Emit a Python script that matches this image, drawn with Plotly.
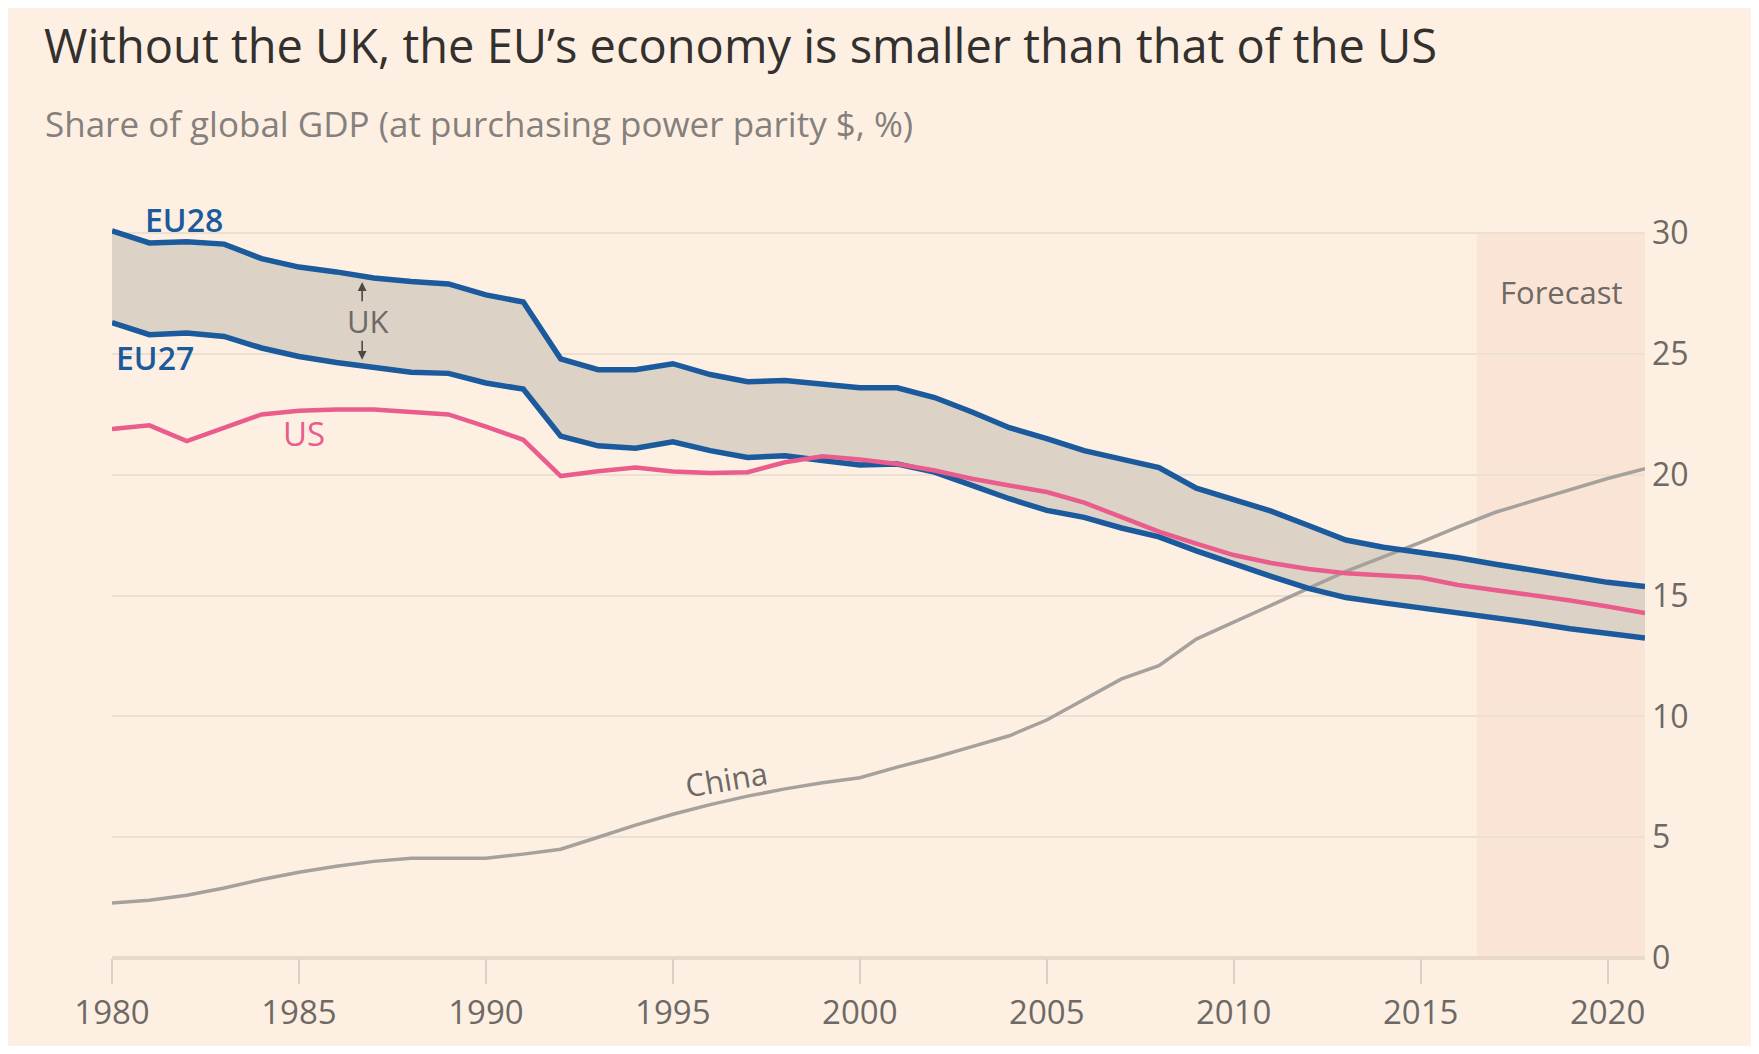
import numpy as np
import plotly.graph_objects as go

# share of global GDP at PPP, %
years = list(range(1980, 2022))

eu28 = [30.1, 29.6, 29.65, 29.55, 28.95, 28.6, 28.4, 28.15, 28.0, 27.9,
        27.45, 27.15, 24.8, 24.35, 24.35, 24.6, 24.15, 23.85, 23.9, 23.75,
        23.6, 23.6, 23.2, 22.6, 21.95, 21.5, 21.0, 20.65, 20.3, 19.45,
        18.95, 18.5, 17.9, 17.3, 17.0, 16.8, 16.57, 16.3, 16.06, 15.8,
        15.55, 15.38]
eu27 = [26.3, 25.8, 25.87, 25.73, 25.25, 24.9, 24.65, 24.45, 24.25, 24.2,
        23.8, 23.55, 21.6, 21.2, 21.1, 21.37, 21.0, 20.72, 20.79, 20.59,
        20.41, 20.45, 20.11, 19.56, 19.01, 18.53, 18.24, 17.8, 17.43, 16.85,
        16.3, 15.8, 15.3, 14.92, 14.7, 14.5, 14.3, 14.08, 13.87, 13.63,
        13.45, 13.25]
us = [21.9, 22.05, 21.4, 21.95, 22.5, 22.65, 22.7, 22.7, 22.6, 22.5,
      22.0, 21.45, 19.95, 20.15, 20.3, 20.14, 20.08, 20.11, 20.52, 20.77,
      20.63, 20.45, 20.18, 19.84, 19.56, 19.29, 18.85, 18.25, 17.65, 17.15,
      16.68, 16.35, 16.1, 15.93, 15.82, 15.75, 15.44, 15.23, 15.03, 14.8,
      14.55, 14.28]
china = [2.28, 2.39, 2.6, 2.9, 3.25, 3.55, 3.8, 4.0, 4.13, 4.13,
         4.13, 4.3, 4.5, 5.0, 5.5, 5.95, 6.35, 6.7, 7.0, 7.25,
         7.46, 7.9, 8.3, 8.75, 9.2, 9.85, 10.7, 11.55, 12.1, 13.2,
         13.9, 14.6, 15.3, 16.0, 16.6, 17.2, 17.85, 18.45, 18.92, 19.4,
         19.85, 20.25]

forecast_start = 2016.5
x_ticks = list(range(1980, 2021, 5))
y_ticks = list(range(0, 31, 5))

# page has an 8px body margin, so the figure sits at (8, 8)
OFF = 8
W, H = 1751, 1038
L, R, T, B = 104, 114, 218, 83

BG = "#fdf0e3"
BLUE = "#1b5a9c"
PINK = "#e95c8c"
GREY_LINE = "#a6a19c"
TEXT_GREY = "#6e6965"
FONT = "Open Sans"


def px_x(px):
    # screen pixel -> paper fraction
    return (px - OFF - L) / (W - L - R)


def px_y(py):
    return (H - B - (py - OFF)) / (H - T - B)


fig = go.Figure()

# UK band: fill between EU27 and EU28
fig.add_trace(go.Scatter(x=years, y=eu27, mode="lines", line=dict(width=0),
                         hoverinfo="skip", showlegend=False))
fig.add_trace(go.Scatter(x=years, y=eu28, mode="lines", line=dict(width=0),
                         fill="tonexty", fillcolor="#dcd3c6",
                         hoverinfo="skip", showlegend=False))

fig.add_trace(go.Scatter(x=years, y=china, mode="lines", name="China",
                         line=dict(color=GREY_LINE, width=3.5)))
fig.add_trace(go.Scatter(x=years, y=eu27, mode="lines", name="EU27",
                         line=dict(color=BLUE, width=5.5)))
fig.add_trace(go.Scatter(x=years, y=eu28, mode="lines", name="EU28",
                         line=dict(color=BLUE, width=5.5)))
fig.add_trace(go.Scatter(x=years, y=us, mode="lines", name="US",
                         line=dict(color=PINK, width=4.5)))

# forecast shading
fig.add_shape(type="rect", xref="x", yref="y", x0=forecast_start, x1=years[-1],
              y0=0, y1=30, fillcolor="#fae4d6", line=dict(width=0), layer="below")

ann = []
ann.append(dict(text="Without the UK, the EU’s economy is smaller than that of the US",
                xref="paper", yref="paper", x=px_x(42), y=px_y(44),
                xanchor="left", yanchor="middle", showarrow=False,
                font=dict(family=FONT, size=47, color="#33302e")))
ann.append(dict(text="Share of global GDP (at purchasing power parity $, %)",
                xref="paper", yref="paper", x=px_x(43), y=px_y(123),
                xanchor="left", yanchor="middle", showarrow=False,
                font=dict(family=FONT, size=35, color="#85807b")))

# series labels, placed by screen position
labels = [
    ("EU28", 184, 219, BLUE, 600, 0, 32),
    ("EU27", 155, 358, BLUE, 600, 0, 32),
    ("US", 304, 435, PINK, 400, 0, 33),
    ("UK", 368, 322, TEXT_GREY, 400, 0, 31),
    ("China", 726, 783, TEXT_GREY, 400, -9.5, 31),
    ("Forecast", 1561, 292, TEXT_GREY, 400, 0, 31),
]
for txt, x, y, col, wt, ang, sz in labels:
    ann.append(dict(text=txt, x=px_x(x), y=px_y(y), xref="paper", yref="paper",
                    showarrow=False, textangle=ang, xanchor="center", yanchor="middle",
                    font=dict(family=FONT, size=sz, color=col, weight=wt)))

# UK arrows, tips sitting just inside the EU28 / EU27 lines
arrow_x = 1986.69
top_tip = np.interp(arrow_x, years, eu28) - 0.25
bot_tip = np.interp(arrow_x, years, eu27) + 0.25
for tip, tail in [(top_tip, top_tip - 0.85), (bot_tip, bot_tip + 0.85)]:
    ann.append(dict(text="", x=arrow_x, y=tip, ax=arrow_x, ay=tail,
                    xref="x", yref="y", axref="x", ayref="y", showarrow=True,
                    arrowhead=2, arrowsize=1.1, arrowwidth=1.6,
                    arrowcolor="#4e4945"))

fig.update_layout(
    width=W, height=H,
    margin=dict(l=L, r=R, t=T, b=B, pad=0),
    paper_bgcolor=BG, plot_bgcolor=BG,
    showlegend=False,
    annotations=ann,
    font=dict(family=FONT, color=TEXT_GREY),
)
fig.update_xaxes(range=[years[0], years[-1]], tickvals=x_ticks,
                 ticks="outside", ticklen=25, tickwidth=1.5, tickcolor="#dccfc3",
                 showgrid=False, zeroline=False, showline=False,
                 tickfont=dict(family=FONT, size=33, color=TEXT_GREY))
fig.update_yaxes(range=[0, 30.3], tickvals=y_ticks, side="right",
                 showgrid=True, gridcolor="#ece0d3", gridwidth=2,
                 zeroline=True, zerolinecolor="#e8d9cb", zerolinewidth=4,
                 ticks="", ticklabelstandoff=6,
                 tickfont=dict(family=FONT, size=32, color=TEXT_GREY))

fig.write_html("out.html")
